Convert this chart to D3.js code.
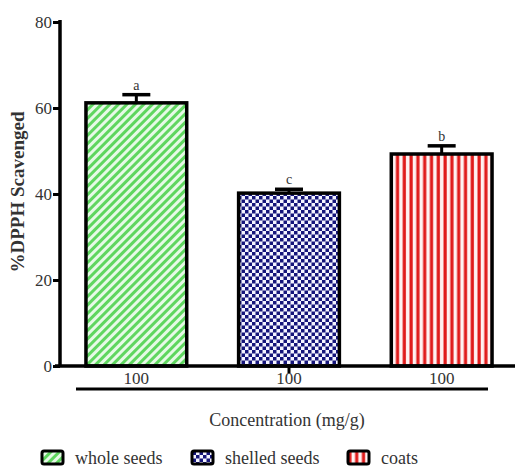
<!DOCTYPE html>
<html><head><meta charset="utf-8">
<script src="https://cdn.jsdelivr.net/npm/d3@7"></script>
<style>body{margin:0;background:#fff}svg{display:block}</style>
</head><body><svg id="c" width="515" height="470"></svg>
<script>
const categories = ["whole seeds", "shelled seeds", "coats"];
const values = [61.2, 40.2, 49.3];
const errors = [1.9, 0.9, 1.9];
const sigLetters = ["a", "c", "b"];
const xTickLabels = ["100", "100", "100"];
const yTicks = [0, 20, 40, 60, 80];
const patterns = ["diag", "check", "vert"];

const FONT = "'Liberation Serif', 'Times New Roman', serif";
const svg = d3.select("#c").attr("font-family", FONT);
const defs = svg.append("defs");
const p1 = defs.append("pattern").attr("id","diag").attr("patternUnits","userSpaceOnUse").attr("width",6).attr("height",6).attr("patternTransform","rotate(45)");
p1.append("rect").attr("width",6).attr("height",6).attr("fill","#e6fae6");
p1.append("rect").attr("width",3).attr("height",6).attr("fill","#5fd65f");
const p2 = defs.append("pattern").attr("id","check").attr("patternUnits","userSpaceOnUse").attr("width",7).attr("height",7);
p2.append("rect").attr("width",7).attr("height",7).attr("fill","#f4f4ff");
p2.append("rect").attr("width",3.5).attr("height",3.5).attr("fill","#15157a");
p2.append("rect").attr("x",3.5).attr("y",3.5).attr("width",3.5).attr("height",3.5).attr("fill","#15157a");
const p3 = defs.append("pattern").attr("id","vert").attr("patternUnits","userSpaceOnUse").attr("width",6.8).attr("height",10);
p3.append("rect").attr("width",6.8).attr("height",10).attr("fill","#fff2f2");
p3.append("rect").attr("x",1.5).attr("width",3.2).attr("height",10).attr("fill","#e01b1b");

const y = d3.scaleLinear().domain([0,80]).range([366,22]);
const x = d3.scaleBand().domain(categories).range([60,518]).paddingInner(0.34).paddingOuter(0.17);

svg.selectAll("rect.bar").data(categories).join("rect").attr("class","bar")
  .attr("x", d=>x(d)).attr("width", x.bandwidth())
  .attr("y", (d,i)=>y(values[i])).attr("height",(d,i)=>y(0)-y(values[i]))
  .attr("fill",(d,i)=>`url(#${patterns[i]})`).attr("stroke","#000").attr("stroke-width",3.5);

const cap = 28;
categories.forEach((d,i)=>{
  const cx = x(d)+x.bandwidth()/2;
  svg.append("line").attr("x1",cx).attr("x2",cx).attr("y1",y(values[i])).attr("y2",y(values[i]+errors[i])).attr("stroke","#000").attr("stroke-width",3);
  svg.append("line").attr("x1",cx-cap/2).attr("x2",cx+cap/2).attr("y1",y(values[i]+errors[i])).attr("y2",y(values[i]+errors[i])).attr("stroke","#000").attr("stroke-width",3.5);
  svg.append("text").attr("x",cx).attr("y",y(values[i]+errors[i])-5).attr("text-anchor","middle").attr("font-size",14).attr("fill","#333").text(sigLetters[i]);
});

const yAxis = svg.append("g").attr("transform","translate(60,0)")
  .call(d3.axisLeft(y).tickValues(yTicks).tickSize(7).tickPadding(1));
yAxis.attr("font-family", FONT);
yAxis.select(".domain").attr("stroke","#000").attr("stroke-width",3.5).attr("d","M0,366V20");
yAxis.selectAll(".tick line").attr("stroke","#000").attr("stroke-width",3);
yAxis.selectAll(".tick text").attr("font-size",17).attr("fill","#333");

svg.append("line").attr("x1",55).attr("x2",515).attr("y1",y(0)).attr("y2",y(0)).attr("stroke","#000").attr("stroke-width",3.5);
const mid = categories[1];
svg.append("line").attr("x1",x(mid)+x.bandwidth()/2).attr("x2",x(mid)+x.bandwidth()/2).attr("y1",y(0)).attr("y2",y(0)+7).attr("stroke","#000").attr("stroke-width",3);
categories.forEach((d,i)=>{
  svg.append("text").attr("x",x(d)+x.bandwidth()/2).attr("y",384).attr("text-anchor","middle").attr("font-size",17).attr("fill","#333").text(xTickLabels[i]);
});
svg.append("line").attr("x1",76).attr("x2",488).attr("y1",389).attr("y2",389).attr("stroke","#000").attr("stroke-width",3);

svg.append("text").attr("x",287).attr("y",426).attr("text-anchor","middle").attr("font-size",18).attr("fill","#333").text("Concentration (mg/g)");
svg.append("text").attr("transform","translate(24,192) rotate(-90)").attr("text-anchor","middle").attr("font-size",19).attr("font-weight","bold").attr("fill","#333").text("%DPPH Scavenged");

const legX = [42, 192, 348];
categories.forEach((d,i)=>{
  svg.append("rect").attr("x",legX[i]).attr("y",451).attr("width",21).attr("height",13).attr("rx",2)
    .attr("fill",`url(#${patterns[i]})`).attr("stroke","#000").attr("stroke-width",3);
  svg.append("text").attr("x",legX[i]+33).attr("y",464).attr("font-size",18).attr("fill","#333").text(d);
});
</script></body></html>
